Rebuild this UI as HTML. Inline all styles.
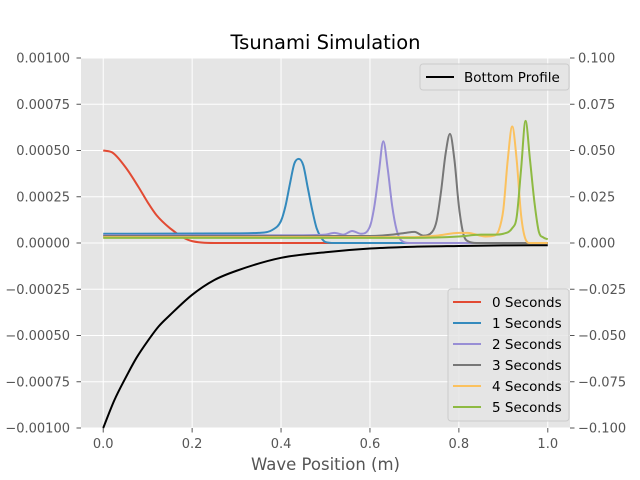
<!DOCTYPE html>
<html><head><meta charset="utf-8"><style>
body{margin:0;background:#fff;}
svg{display:block;font-family:"DejaVu Sans","Liberation Sans",sans-serif;}
</style></head><body>
<svg id="chart" width="640" height="480" viewBox="0 0 640 480"></svg>
<script>
const xTicks=[0,0.2,0.4,0.6,0.8,1.0];
const xTickLabels=["0.0","0.2","0.4","0.6","0.8","1.0"];
const yTicks=[0.001,0.00075,0.0005,0.00025,0,-0.00025,-0.0005,-0.00075,-0.001];
const yTickLabels=["0.00100","0.00075","0.00050","0.00025","0.00000","−0.00025","−0.00050","−0.00075","−0.00100"];
const y2Ticks=[0.1,0.075,0.05,0.025,0,-0.025,-0.05,-0.075,-0.1];
const y2TickLabels=["0.100","0.075","0.050","0.025","0.000","−0.025","−0.050","−0.075","−0.100"];
const seriesNames=["0 Seconds","1 Seconds","2 Seconds","3 Seconds","4 Seconds","5 Seconds"];
const seriesColors=["#E24A33","#348ABD","#988ED5","#777777","#FBC15E","#8EBA42"];
// wave heights (units of 1e-4 m)
const s0x=[0,0.02,0.05,0.08,0.1,0.12,0.15,0.18,0.2,0.25,1];
const s0y=[5,4.9,4.1,3.0,2.2,1.5,0.8,0.3,0.1,0,0];
const s1x=[0,0.3,0.35,0.38,0.4,0.41,0.42,0.43,0.44,0.45,0.46,0.47,0.48,0.49,0.5,0.52,1];
const s1y=[0.5,0.52,0.55,0.7,1.2,2,3.2,4.3,4.55,4.2,3,1.8,0.8,0.3,0.05,0,0];
const s2x=[0,0.45,0.5,0.52,0.54,0.56,0.58,0.6,0.61,0.62,0.63,0.64,0.65,0.66,0.67,0.69,1];
const s2y=[0.42,0.42,0.45,0.55,0.45,0.65,0.5,0.9,2,3.8,5.5,4,2,0.7,0.15,0,0];
const s3x=[0,0.6,0.65,0.68,0.7,0.72,0.74,0.75,0.76,0.77,0.78,0.79,0.8,0.81,0.82,0.84,1];
const s3y=[0.38,0.38,0.45,0.55,0.6,0.4,0.6,1.2,2.8,4.8,5.9,4.5,2,0.5,0.1,0,0];
const s4x=[0,0.7,0.75,0.8,0.82,0.86,0.88,0.89,0.9,0.91,0.92,0.93,0.94,0.95,0.96,1];
const s4y=[0.32,0.32,0.4,0.55,0.55,0.35,0.4,0.7,1.8,4.5,6.3,4.5,1.5,0.2,0,0];
const s5x=[0,0.7,0.8,0.85,0.88,0.9,0.92,0.93,0.94,0.95,0.96,0.97,0.98,0.99,1.0];
const s5y=[0.28,0.28,0.35,0.45,0.45,0.5,0.8,1.4,4,6.6,4.5,2.2,0.6,0.3,0.2];
// bottom profile (right axis)
const bx=[0,0.025,0.05,0.075,0.1,0.125,0.15,0.2,0.25,0.3,0.4,0.5,0.6,0.7,0.8,0.9,1];
const by=[-0.1,-0.085,-0.073,-0.062,-0.053,-0.045,-0.039,-0.028,-0.020,-0.015,-0.008,-0.005,-0.003,-0.002,-0.0016,-0.0013,-0.0012];

const L=81,R=570,T=58,B=428;
const xs=v=>L+(v+0.05)/1.1*(R-L);
const ys=v=>T+(0.001-v)/0.002*(B-T);
const y2s=v=>T+(0.1-v)/0.2*(B-T);
const svg=document.getElementById('chart');
const NS='http://www.w3.org/2000/svg';
function mk(tag,attrs,parent){const e=document.createElementNS(NS,tag);for(const k in attrs)e.setAttribute(k,attrs[k]);(parent||svg).appendChild(e);return e;}
// monotone cubic (Fritsch-Carlson) in x
function smooth(p){const n=p.length;const d=[],m=[];for(let i=0;i<n-1;i++)d.push((p[i+1][1]-p[i][1])/(p[i+1][0]-p[i][0]));
m[0]=d[0];m[n-1]=d[n-2];for(let i=1;i<n-1;i++){m[i]=(d[i-1]*d[i]<=0)?0:(d[i-1]+d[i])/2;}
for(let i=0;i<n-1;i++){if(d[i]===0){m[i]=0;m[i+1]=0;continue;}const a=m[i]/d[i],b=m[i+1]/d[i],s=a*a+b*b;if(s>9){const t=3/Math.sqrt(s);m[i]=t*a*d[i];m[i+1]=t*b*d[i];}}
let s='M'+p[0][0]+','+p[0][1];for(let i=0;i<n-1;i++){const h=(p[i+1][0]-p[i][0])/3;s+=' C'+(p[i][0]+h)+','+(p[i][1]+m[i]*h)+' '+(p[i+1][0]-h)+','+(p[i+1][1]-m[i+1]*h)+' '+p[i+1][0]+','+p[i+1][1];}return s;}

const bg=mk('rect',{x:L,y:T,width:R-L,height:B-T,fill:'#E5E5E5'});


const grid=mk('g',{stroke:'#fff','stroke-width':1});


xTicks.forEach(v=>mk('line',{x1:xs(v),x2:xs(v),y1:T,y2:B},grid));
yTicks.forEach(v=>mk('line',{x1:L,x2:R,y1:ys(v),y2:ys(v)},grid));

const xt=mk('g',{fill:'#555','font-size':13,'text-anchor':'middle'});


xTicks.forEach((v,i)=>{mk('line',{x1:xs(v),x2:xs(v),y1:B,y2:B+4.5,stroke:'#555'},xt);const t=mk('text',{x:xs(v),y:B+20},xt);t.textContent=xTickLabels[i];});
const yt=mk('g',{fill:'#555','font-size':13,'text-anchor':'end'});


yTicks.forEach((v,i)=>{mk('line',{x1:L-4.5,x2:L,y1:ys(v),y2:ys(v),stroke:'#555'},yt);const t=mk('text',{x:L-11,y:ys(v)+4.5},yt);t.textContent=yTickLabels[i];});
const y2t=mk('g',{fill:'#555','font-size':13,'text-anchor':'start'});


y2Ticks.forEach((v,i)=>{mk('line',{x1:R,x2:R+4.5,y1:y2s(v),y2:y2s(v),stroke:'#555'},y2t);const t=mk('text',{x:R+8,y:y2s(v)+4.5},y2t);t.textContent=y2TickLabels[i];});

const sx=[s0x,s1x,s2x,s3x,s4x,s5x],sy=[s0y,s1y,s2y,s3y,s4y,s5y];
sx.forEach((xa,k)=>{const pts=xa.map((x,i)=>[xs(x),ys(sy[k][i]*1e-4)]);const p=mk('path',{d:smooth(pts),fill:'none',stroke:seriesColors[k],'stroke-width':2});

});
const bp=mk('path',{d:smooth(bx.map((x,i)=>[xs(x),y2s(by[i])])),fill:'none',stroke:'#000','stroke-width':2});



const title=mk('text',{x:(L+R)/2,y:49,'text-anchor':'middle','font-size':19.5,fill:'#000'});
title.textContent='Tsunami Simulation';


const xl=mk('text',{x:(L+R)/2,y:470,'text-anchor':'middle','font-size':16.5,fill:'#555'});
xl.textContent='Wave Position (m)';



const lg1=mk('g',{});


mk('rect',{x:420,y:64,width:149,height:26,rx:3,fill:'#E5E5E5',stroke:'#ccc','fill-opacity':0.8},lg1);
mk('line',{x1:426,x2:454,y1:77,y2:77,stroke:'#000','stroke-width':2},lg1);
const lt=mk('text',{x:464,y:82,'font-size':13.5,fill:'#000'},lg1);lt.textContent='Bottom Profile';

const lg2=mk('g',{});


mk('rect',{x:448,y:289,width:121,height:132,rx:3,fill:'#E5E5E5',stroke:'#ccc','fill-opacity':0.8},lg2);
seriesNames.forEach((n,i)=>{const y=302+i*21;const g=mk('g',{},lg2);


mk('line',{x1:453,x2:481,y1:y,y2:y,stroke:seriesColors[i],'stroke-width':2},g);const t=mk('text',{x:492,y:y+5,'font-size':13.5,fill:'#000'},g);t.textContent=n;});
</script>
</body></html>
